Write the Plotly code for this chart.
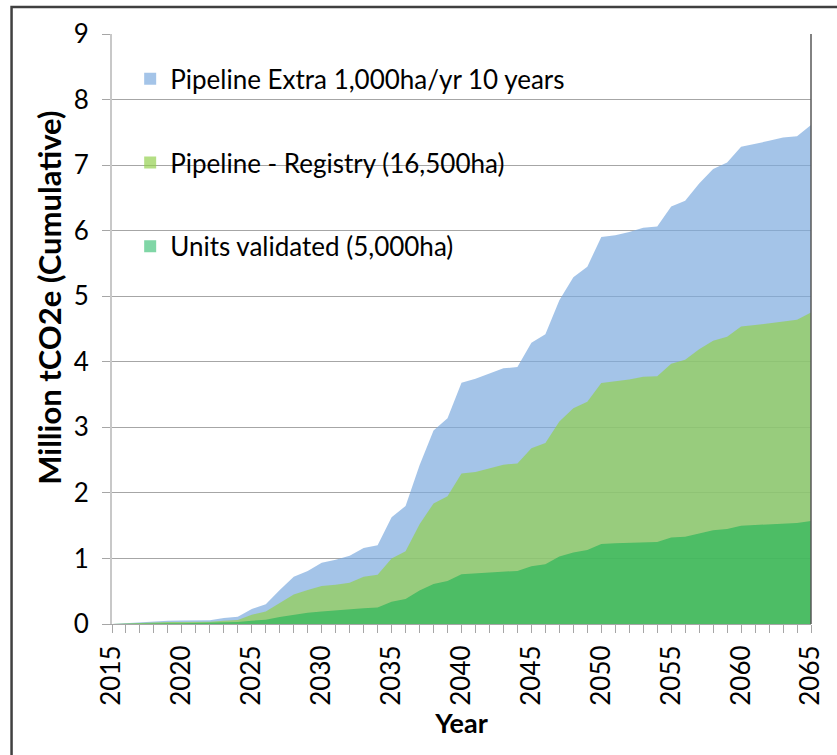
import plotly.graph_objects as go

years = list(range(2015, 2066))

# Cumulative totals (Million tCO2e) (overlapping areas)
units_validated = [0, 0.005, 0.008, 0.01, 0.013, 0.013, 0.015, 0.015, 0.025, 0.03,
                   0.05, 0.065, 0.105, 0.14, 0.17, 0.19, 0.21, 0.22, 0.24, 0.25,
                   0.34, 0.38, 0.51, 0.61, 0.655, 0.76, 0.77, 0.79, 0.80, 0.81,
                   0.88, 0.91, 1.03, 1.09, 1.13, 1.22, 1.23, 1.24, 1.25, 1.25,
                   1.32, 1.33, 1.38, 1.43, 1.45, 1.50, 1.51, 1.52, 1.53, 1.54, 1.57]
pipeline_registry = [0, 0.01, 0.015, 0.025, 0.03, 0.03, 0.033, 0.035, 0.05, 0.06,
                     0.14, 0.19, 0.32, 0.45, 0.52, 0.58, 0.60, 0.63, 0.72, 0.75,
                     1.00, 1.11, 1.52, 1.84, 1.95, 2.295, 2.32, 2.37, 2.43, 2.45,
                     2.68, 2.76, 3.09, 3.29, 3.39, 3.675, 3.70, 3.73, 3.77, 3.78,
                     3.97, 4.03, 4.19, 4.32, 4.38, 4.54, 4.56, 4.59, 4.62, 4.64, 4.75]
pipeline_extra = [0, 0.015, 0.025, 0.045, 0.05, 0.053, 0.056, 0.058, 0.09, 0.11,
                  0.23, 0.30, 0.52, 0.72, 0.81, 0.935, 0.98, 1.04, 1.16, 1.20,
                  1.63, 1.80, 2.42, 2.95, 3.14, 3.68, 3.74, 3.82, 3.90, 3.92,
                  4.29, 4.42, 4.94, 5.29, 5.45, 5.905, 5.93, 5.98, 6.045, 6.065,
                  6.37, 6.455, 6.72, 6.94, 7.04, 7.28, 7.32, 7.37, 7.42, 7.44, 7.61]

series_names = ["Pipeline Extra 1,000ha/yr 10 years",
                "Pipeline - Registry (16,500ha)",
                "Units validated (5,000ha)"]
series_values = [pipeline_extra, pipeline_registry, units_validated]
series_colors = ["rgba(126,171,222,0.7)", "rgba(146,207,77,0.69)", "rgba(1,173,77,0.5)"]

x_ticks = list(range(2015, 2066, 5))
y_ticks = list(range(0, 10))

FONT = "Lato"

fig = go.Figure()
for name, vals, col in zip(series_names, series_values, series_colors):
    fig.add_trace(go.Scatter(x=years, y=vals, mode="lines", fill="tozeroy",
                             fillcolor=col, line=dict(width=0, color=col),
                             name=name, showlegend=False, hoverinfo="x+y+name"))
for i, (name, col) in enumerate(zip(series_names, series_colors)):
    fig.add_trace(go.Scatter(x=[None], y=[None], mode="markers", name=name,
                             legendgroup=f"g{i}",
                             marker=dict(symbol="square", size=15, color=col)))

fig.update_layout(
    width=837, height=755,
    margin=dict(l=112, r=22, t=34, b=131),
    paper_bgcolor="white", plot_bgcolor="white",
    font=dict(family=FONT, size=26, color="#000000"),
    showlegend=True,
    legend=dict(x=0.026, y=0.964, xanchor="left", yanchor="top",
                bgcolor="rgba(0,0,0,0)", font=dict(size=26, family=FONT),
                tracegroupgap=47, traceorder="grouped", itemsizing="constant"),
    xaxis=dict(range=[2015, 2065], tickmode="array", tickvals=x_ticks,
               ticktext=[str(v) for v in x_ticks], tickangle=-90,
               showgrid=False, zeroline=False, showline=True,
               linecolor="#A6A6A6", linewidth=1,
               ticks="outside", ticklen=8, tickcolor="#A6A6A6",
               minor=dict(dtick=1, ticks="outside", ticklen=8, tickcolor="#A6A6A6"),
               ticklabelstandoff=2,
               tickfont=dict(size=26, family=FONT),
               title=dict(text="<b>Year</b>", font=dict(size=27, family=FONT), standoff=9)),
    yaxis=dict(range=[0, 9], tickmode="array", tickvals=y_ticks,
               showgrid=True, gridcolor="#A6A6A6", gridwidth=1,
               zeroline=False, showline=True, linecolor="#C8C8C8", linewidth=2,
               ticks="outside", ticklen=8, tickcolor="#A6A6A6",
               ticklabelstandoff=8,
               tickfont=dict(size=26, family=FONT)),
    annotations=[dict(text="<b>Million tCO2e (Cumulative)</b>", textangle=-90,
                      xref="paper", yref="paper", x=-0.09, y=0.553,
                      xanchor="center", yanchor="middle", showarrow=False,
                      font=dict(size=31, family=FONT))],
    shapes=[
        dict(type="line", xref="paper", yref="paper", x0=1, x1=1, y0=0, y1=1,
             line=dict(color="#595959", width=1.5)),
        dict(type="rect", xref="paper", yref="paper", x0=-0.1437, x1=1.5,
             y0=-1, y1=1.0458, line=dict(color="#404040", width=2.5),
             fillcolor="rgba(0,0,0,0)", layer="below"),
    ],
)

fig.write_html("out.html", config={"displayModeBar": False},
               post_script="document.body.style.margin='0';document.body.style.overflow='hidden';")
